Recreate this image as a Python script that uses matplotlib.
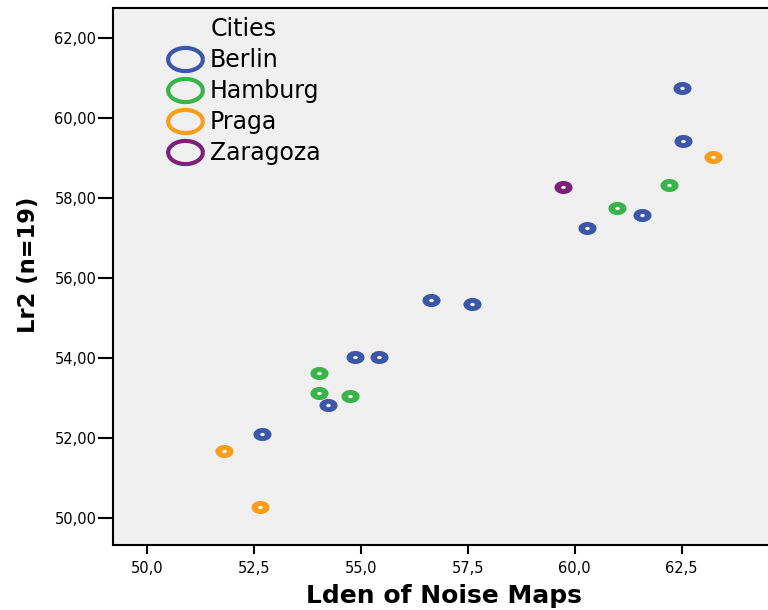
import numpy as np
import matplotlib
matplotlib.use("Agg")
import matplotlib.pyplot as plt
from matplotlib.path import Path
from matplotlib.lines import Line2D

plt.rcParams['font.family'] = ['DejaVu Sans']

# Datos
ciudades = ['Berlin', 'Hamburg', 'Praga', 'Zaragoza']
colores = ['#3c57a8', '#38b449', '#f99d1c', '#7a2179']

berlin_x = [62.51, 62.53, 61.57, 60.30, 56.65, 57.59, 54.87, 55.43, 54.24, 52.69]
berlin_y = [60.73, 59.43, 57.56, 57.24, 55.46, 55.36, 54.02, 54.02, 52.82, 52.10]
hamburg_x = [62.20, 60.98, 54.03, 54.03, 54.75]
hamburg_y = [58.32, 57.74, 53.63, 53.13, 53.06]
praga_x = [63.23, 51.80, 52.65]
praga_y = [59.03, 51.67, 50.28]
zaragoza_x = [59.74]
zaragoza_y = [58.27]

xs = [berlin_x, hamburg_x, praga_x, zaragoza_x]
ys = [berlin_y, hamburg_y, praga_y, zaragoza_y]

x_ticks = [50.0, 52.5, 55.0, 57.5, 60.0, 62.5]
y_ticks = [50, 52, 54, 56, 58, 60, 62]


def elipse(ratio):
    # marcador elíptico: la imagen original está estirada en horizontal
    t = np.linspace(0, 2 * np.pi, 60)
    return Path(np.column_stack([ratio * np.cos(t), np.sin(t)]))


fig = plt.figure(figsize=(7.68, 6.10), dpi=100)
ax = fig.add_axes([113 / 768, 65 / 610, 1 - 113 / 768, 537 / 610])
ax.set_facecolor('#f0f0f0')

for x, y, c in zip(xs, ys, colores):
    ax.plot(x, y, linestyle='none', marker=elipse(1.38), markersize=13,
            markerfacecolor=c, markeredgewidth=0)
    ax.plot(x, y, linestyle='none', marker=elipse(1.38), markersize=3.2,
            markerfacecolor='white', markeredgewidth=0)

ax.set_xlim(49.21, 64.52)
ax.set_ylim(49.33, 62.74)
ax.set_xticks(x_ticks)
ax.set_xticklabels([f'{v:.1f}'.replace('.', ',') for v in x_ticks])
ax.set_yticks(y_ticks)
ax.set_yticklabels([f'{v:.2f}'.replace('.', ',') for v in y_ticks])
ax.tick_params(axis='x', direction='out', length=6.5, width=1.5, labelsize=10.5, pad=5)
ax.tick_params(axis='y', direction='out', length=11, width=1.5, labelsize=10.5, pad=1)
for s in ['left', 'bottom', 'top']:
    ax.spines[s].set_linewidth(1.5)
ax.spines['right'].set_visible(False)

fig.text(444 / 768, 1 - 596 / 610, 'Lden of Noise Maps', fontsize=18,
         fontweight='bold', ha='center', va='center')
fig.text(29 / 768, 1 - 265 / 610, 'Lr2 (n=19)', fontsize=16.3, fontweight='bold',
         rotation=90, ha='center', va='center')

handles = [Line2D([], [], linestyle='none', marker=elipse(1.5), markersize=25,
                  markerfacecolor='none', markeredgecolor=c, markeredgewidth=3)
           for c in colores]
leg = fig.legend(handles, ciudades, title='Cities', loc='upper left',
                 bbox_to_anchor=(166 / 768, 1 - 17 / 610), frameon=False,
                 fontsize=17, title_fontsize=17, handlelength=1.65,
                 handletextpad=0.2, labelspacing=0.3, borderpad=0,
                 borderaxespad=0)

fig.savefig('out.png', dpi=100)
